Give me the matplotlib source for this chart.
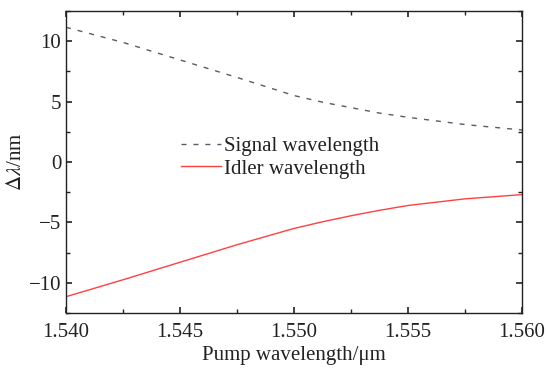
import matplotlib
matplotlib.use("Agg")
import matplotlib.pyplot as plt
from matplotlib.ticker import MultipleLocator

plt.rcParams['font.family'] = ['Liberation Serif', 'DejaVu Serif']
plt.rcParams['mathtext.fontset'] = 'stix'

# pump wavelength (um)
pump = [1.540, 1.5425, 1.545, 1.5475, 1.550, 1.55125, 1.5525, 1.55375, 1.555, 1.5575, 1.560]
# wavelength offsets (nm)
signal = [11.15, 9.9, 8.45, 7.0, 5.5, 4.95, 4.5, 4.05, 3.7, 3.1, 2.65]
idler = [-11.15, -9.75, -8.3, -6.85, -5.5, -4.95, -4.45, -4.0, -3.6, -3.05, -2.7]

fig = plt.figure(figsize=(5.49, 3.68), dpi=100)
ax = fig.add_axes([66 / 549, 1 - 313 / 368, 456 / 549, 302 / 368])

ax.plot(pump, signal, color='#5a5a68', ls=(0, (3.6, 5)), lw=1.0, label='Signal wavelength')
ax.plot(pump, idler, color='#ff4040', lw=1.0, label='Idler wavelength')

ax.set_xlim(1.540, 1.560)
ax.set_ylim(-12.5, 12.5)
ax.xaxis.set_major_locator(MultipleLocator(0.005))
ax.xaxis.set_minor_locator(MultipleLocator(0.0025))
ax.yaxis.set_major_locator(MultipleLocator(5))
ax.yaxis.set_minor_locator(MultipleLocator(2.5))
ax.xaxis.set_major_formatter(plt.FormatStrFormatter('%.3f'))
ax.tick_params(which='both', direction='in', top=True, right=True, labelsize=15, colors='#222222')
ax.tick_params(axis='x', pad=7)
ax.tick_params(which='major', length=4, width=1.2)
ax.tick_params(which='minor', length=3, width=1.0)
for s in ax.spines.values():
    s.set_linewidth(1.0)
    s.set_color('#222222')

ax.set_xlabel('Pump wavelength/μm', fontsize=15, color='#222222', labelpad=3)
ax.set_ylabel(r'$\Delta\lambda$/nm', fontsize=15, color='#222222', labelpad=2)

ax.legend(loc='center left', bbox_to_anchor=(0.212, 0.515), frameon=False, fontsize=15,
          handlelength=1.9, handletextpad=0.15, labelspacing=0.15, labelcolor='#222222')

fig.savefig('out.png', dpi=100)
